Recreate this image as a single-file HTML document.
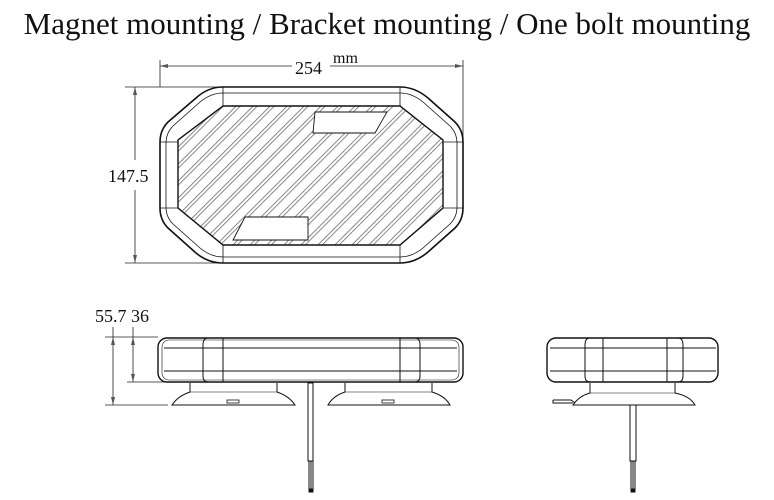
<!DOCTYPE html>
<html><head><style>
body{margin:0;background:#fff;width:774px;height:500px;overflow:hidden}
svg{position:absolute;left:0;top:0}
text{font-family:"Liberation Serif",serif;fill:#111}
</style></head><body>
<svg width="774" height="500" viewBox="0 0 774 500">
<defs>
<pattern id="h" patternUnits="userSpaceOnUse" width="12" height="12" patternTransform="rotate(-45)">
<line x1="0" y1="2" x2="12" y2="2" stroke="#555" stroke-width="0.7"/>
<line x1="0" y1="5" x2="12" y2="5" stroke="#555" stroke-width="0.7"/>
</pattern>
<clipPath id="ic"><path d="M223,106 L400,106 L443,140 L443,208 L400,245 L223,245 L178,208 L178,140 Z"/></clipPath>
</defs>
<text x="387" y="34" font-size="31" text-anchor="middle">Magnet mounting / Bracket mounting / One bolt mounting</text>
<g stroke="#222" fill="none" stroke-width="0.8">
<line x1="160" y1="60" x2="160" y2="87"/><line x1="463" y1="60" x2="463" y2="140"/>
<line x1="160" y1="66" x2="292" y2="66"/><line x1="330" y1="66" x2="463" y2="66"/>
<line x1="125" y1="87" x2="223" y2="87"/><line x1="125" y1="263" x2="223" y2="263"/>
<line x1="135" y1="87" x2="135" y2="160"/><line x1="135" y1="190" x2="135" y2="263"/>
</g>
<g fill="#555"><path d="M160,66 l8,-2 v4z"/><path d="M463,66 l-8,-2 v4z"/><path d="M135,87 l-2,8 h4z"/><path d="M135,263 l-2,-8 h4z"/></g>
<text x="295" y="74" font-size="18">254</text>
<text x="333" y="63" font-size="16">mm</text>
<text x="108" y="182" font-size="18">147.5</text>
<g stroke="#111" fill="none">
<path d="M223,87 L400,87 Q415,87 428,98 L455,122 Q463,130 463,142 L463,208 Q463,220 455,228 L428,252 Q415,263 400,263 L223,263 Q208,263 196,253 L168,228 Q160,220 160,208 L160,142 Q160,130 168,122 L196,98 Q208,87 223,87 Z" stroke-width="1.6"/>
<path d="M223,93 L400,93 Q412,93 423,102 L450,126 Q457,133 457,143 L457,207 Q457,217 450,224 L423,248 Q412,257 400,257 L223,257 Q211,257 200,248 L173,224 Q166,217 166,207 L166,143 Q166,133 173,126 L200,102 Q211,93 223,93 Z" stroke-width="0.8"/>
<rect x="178" y="106" width="265" height="139" fill="url(#h)" clip-path="url(#ic)" stroke="none"/>
<path d="M223,106 L400,106 L443,140 L443,208 L400,245 L223,245 L178,208 L178,140 Z" stroke-width="1.4"/>
<line x1="223" y1="87" x2="223" y2="106" stroke-width="0.8"/><line x1="400" y1="87" x2="400" y2="106" stroke-width="0.8"/>
<line x1="223" y1="245" x2="223" y2="263" stroke-width="0.8"/><line x1="400" y1="245" x2="400" y2="263" stroke-width="0.8"/>
<line x1="160" y1="142" x2="178" y2="142" stroke-width="0.8"/><line x1="160" y1="208" x2="178" y2="208" stroke-width="0.8"/>
<line x1="443" y1="142" x2="463" y2="142" stroke-width="0.8"/><line x1="443" y1="208" x2="463" y2="208" stroke-width="0.8"/>
<path d="M315,112 L387,112 L375,133 L313,133 Z" fill="#fff" stroke-width="0.9"/>
<path d="M245,217 L308,217 L308,240 L233,240 Z" fill="#fff" stroke-width="0.9"/>
</g>
<g stroke="#222" fill="none" stroke-width="0.8">
<line x1="105" y1="337" x2="158" y2="337"/><line x1="127" y1="382" x2="165" y2="382"/><line x1="105" y1="405" x2="168" y2="405"/>
<line x1="113" y1="327" x2="113" y2="405"/><line x1="133" y1="327" x2="133" y2="382"/>
</g>
<g fill="#555"><path d="M113,337 l-2,8 h4z"/><path d="M113,405 l-2,-8 h4z"/><path d="M133,337 l-2,8 h4z"/><path d="M133,382 l-2,-8 h4z"/></g>
<text x="95" y="322" font-size="18">55.7 36</text>
<g stroke="#111" fill="none" stroke-width="1">
<rect x="158" y="338" width="305" height="44" rx="9" stroke-width="1.4"/>
<rect x="162" y="340" width="297" height="40" rx="7" stroke-width="0.6"/>
<line x1="164" y1="348" x2="457" y2="348"/><line x1="164" y1="371" x2="457" y2="371"/>
<path d="M208,338 Q203,338 203,345 L203,376 Q203,382 208,382" />
<line x1="223" y1="338" x2="223" y2="382"/><line x1="400" y1="338" x2="400" y2="382"/>
<path d="M415,338 Q420,338 420,345 L420,376 Q420,382 415,382"/>
<path d="M190,383 L190,392 Q178,396 172,405 L295,405 Q289,396 277,392 L277,383" fill="#fff"/>
<line x1="190" y1="392" x2="277" y2="392" stroke-width="0.6"/>
<path d="M345,383 L345,392 Q333,396 328,405 L450,405 Q445,396 432,392 L432,383" fill="#fff"/>
<line x1="345" y1="392" x2="432" y2="392" stroke-width="0.6"/>
<rect x="227" y="400" width="12" height="3" stroke-width="0.8"/>
<rect x="382" y="400" width="12" height="3" stroke-width="0.8"/>
<rect x="308" y="383" width="5" height="78"/>
<line x1="309" y1="461" x2="309" y2="490"/><line x1="311" y1="461" x2="311" y2="490"/><line x1="313" y1="461" x2="313" y2="490"/>
<rect x="309" y="489" width="4" height="3" fill="#111"/>
<rect x="547" y="338" width="171" height="44" rx="9" stroke-width="1.4"/>
<line x1="550" y1="348" x2="716" y2="348"/><line x1="550" y1="371" x2="716" y2="371"/>
<path d="M590,338 Q585,338 585,345 L585,376 Q585,382 590,382"/>
<line x1="603" y1="338" x2="603" y2="382"/><line x1="667" y1="338" x2="667" y2="382"/>
<path d="M678,338 Q683,338 683,345 L683,376 Q683,382 678,382"/>
<path d="M590,383 L590,393 Q579,396 573,405 L695,405 Q690,396 675,393 L675,383" fill="#fff"/>
<line x1="590" y1="393" x2="675" y2="393" stroke-width="0.6"/>
<path d="M553,400 L571,400 L575,403 M553,400 L553,403 L573,403"/>
<rect x="630" y="405" width="6" height="56"/>
<line x1="631" y1="461" x2="631" y2="490"/><line x1="633" y1="461" x2="633" y2="490"/><line x1="635" y1="461" x2="635" y2="490"/>
<rect x="631" y="489" width="4" height="3" fill="#111"/>
</g>
</svg>
</body></html>
